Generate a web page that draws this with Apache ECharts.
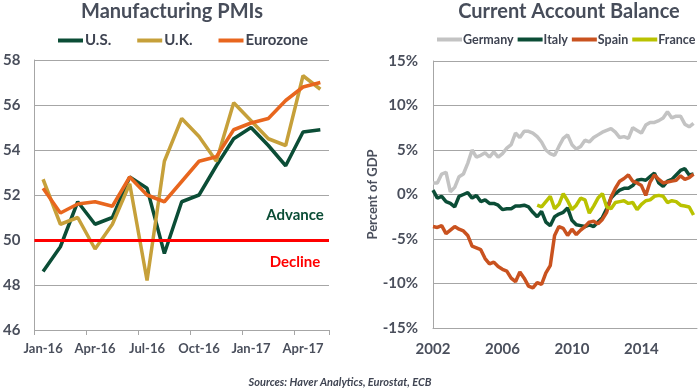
<!DOCTYPE html>
<html><head><meta charset="utf-8">
<script src="https://cdn.jsdelivr.net/npm/echarts@6/dist/echarts.min.js"></script>
<style>html,body{margin:0;padding:0;background:#fff}#c{width:700px;height:392px}</style>
</head><body><div id="c"></div>
<script>
// ---- Left chart: Manufacturing PMIs (monthly) ----
const months = ['Jan-16','Feb-16','Mar-16','Apr-16','May-16','Jun-16','Jul-16','Aug-16','Sep-16','Oct-16','Nov-16','Dec-16','Jan-17','Feb-17','Mar-17','Apr-17','May-17'];
const usPMI = [48.6,49.7,51.7,50.7,51.0,52.8,52.3,49.4,51.7,52.0,53.3,54.5,55.0,54.2,53.3,54.8,54.9];
const ukPMI = [52.7,50.7,51.0,49.6,50.7,52.5,48.2,53.5,55.4,54.6,53.5,56.1,55.3,54.5,54.2,57.3,56.7];
const ezPMI = [52.3,51.2,51.6,51.7,51.5,52.8,52.0,51.7,52.6,53.5,53.7,54.9,55.2,55.4,56.2,56.8,57.0];
const pmiThreshold = 50;

// ---- Right chart: Current account balance, % of GDP (quarterly) ----
const caStartYear = 2002;
const franceStartYear = 2008;
const germany = [1.3,1.3,2.3,2.5,0.3,0.8,2.0,2.3,3.5,5.0,4.2,4.4,4.7,4.2,4.8,4.2,4.6,5.2,5.6,6.9,6.4,7.1,7.1,6.9,6.5,5.9,5.0,4.6,4.4,5.4,6.3,6.7,5.6,5.1,5.4,6.1,5.9,6.4,6.7,7.0,7.2,7.4,7.0,6.4,6.5,6.3,7.5,7.2,6.9,7.8,8.1,8.1,8.3,8.6,9.3,8.6,8.8,8.8,7.9,7.6,8.0];
const italy = [0.5,-0.4,-0.2,-0.8,-1.0,-1.4,-0.2,0.0,0.2,-0.4,-0.1,-0.8,-0.6,-1.0,-1.0,-1.2,-1.7,-1.6,-1.6,-1.3,-1.3,-1.2,-1.4,-2.0,-2.5,-1.9,-3.1,-3.5,-2.5,-2.2,-2.0,-1.5,-2.9,-3.4,-3.5,-3.6,-3.4,-3.6,-3.1,-2.6,-1.6,-0.4,0.1,0.5,0.7,0.7,1.0,1.6,1.7,1.6,2.0,2.4,1.3,0.9,1.5,1.7,2.2,2.7,2.9,2.2,2.3];
const spain = [-3.6,-3.7,-3.5,-4.4,-4.0,-3.6,-3.9,-4.1,-4.6,-5.8,-6.0,-6.2,-7.2,-7.8,-7.6,-8.1,-8.4,-8.6,-9.4,-9.8,-8.7,-9.4,-10.3,-10.5,-9.9,-10.1,-8.8,-8.0,-4.6,-3.6,-3.8,-4.6,-3.9,-4.5,-4.0,-3.6,-3.1,-3.0,-3.3,-2.8,-2.0,-0.3,0.7,1.5,1.8,2.2,1.5,1.3,1.0,-0.1,1.4,2.2,1.7,1.3,1.4,1.5,1.6,2.1,1.7,1.9,2.3];
const france = [-1.2,-1.4,-0.8,-0.2,-1.6,-1.1,0.1,-0.7,-1.7,-1.2,-0.4,-0.6,-2.1,-1.3,-0.4,0.1,-1.4,-1.6,-0.9,-0.8,-0.7,-1.0,-0.9,-1.7,-1.1,-0.7,-0.6,-0.2,-0.1,-0.2,-0.9,-0.7,-0.8,-1.2,-1.3,-1.4,-2.3];
const yearTicks = [2002, 2006, 2010, 2014];

function quarterly(arr, start) { return arr.map((v, i) => [start + i * 0.25, v]); }

const FONT = 'Lato';
const AX = '#4a4f5c';
const GRIDC = '#a6a6a6';
const C_US = '#0b4d36', C_UK = '#c6a03a', C_EZ = '#e8661e';
const C_DE = '#c3c3c3', C_IT = '#0b4d36', C_ES = '#c9521f', C_FR = '#b9c200';

const chart = echarts.init(document.getElementById('c'));
const lineS = (name, data, color, xi, extra) => Object.assign({
  name, type: 'line', data, xAxisIndex: xi, yAxisIndex: xi, symbol: 'none',
  lineStyle: { color, width: 3.5 }, itemStyle: { color }, silent: true
}, extra || {});

chart.setOption({
  animation: false,
  textStyle: { fontFamily: FONT },
  grid: [
    { left: 33, top: 60, width: 296, height: 270 },
    { left: 433, top: 61, width: 267, height: 267 }
  ],
  legend: [
    { data: ['U.S.', 'U.K.', 'Eurozone'], left: 58, top: 33, padding: 0, icon: 'rect', itemWidth: 25, itemHeight: 4, itemGap: 26,
      textStyle: { fontFamily: FONT, fontSize: 15, fontWeight: 'bold', color: '#3f4452', padding: [0, 0, 0, -3] } },
    { data: ['Germany', 'Italy', 'Spain', 'France'], left: 437, top: 33, width: 300, padding: 0, icon: 'rect', itemWidth: 25, itemHeight: 4, itemGap: 4,
      textStyle: { fontFamily: FONT, fontSize: 12.5, fontWeight: 'bold', color: '#3f4452', padding: [0, 0, 0, -4] } }
  ],
  xAxis: [
    { type: 'category', gridIndex: 0, data: months, boundaryGap: true,
      axisLine: { lineStyle: { color: GRIDC } },
      axisTick: { show: true, interval: 2, length: 5, lineStyle: { color: GRIDC } },
      axisLabel: { interval: 2, fontSize: 13, fontWeight: 'bold', color: AX, margin: 12, fontFamily: FONT } },
    { type: 'value', gridIndex: 1, min: caStartYear, max: 2017.2, interval: 4,
      splitLine: { show: false },
      axisLine: { onZero: false, lineStyle: { color: GRIDC } },
      axisTick: { show: false },
      axisLabel: { fontSize: 15, fontWeight: 'bold', color: AX, margin: 14, fontFamily: FONT,
        formatter: v => (yearTicks.indexOf(v) >= 0 ? String(v) : '') } }
  ],
  yAxis: [
    { type: 'value', gridIndex: 0, min: 46, max: 58, interval: 2,
      axisLine: { show: true, lineStyle: { color: GRIDC } },
      axisTick: { show: false },
      splitLine: { lineStyle: { color: GRIDC } },
      axisLabel: { fontSize: 15, color: AX, margin: 14, fontFamily: FONT, fontWeight: 'bold' } },
    { type: 'value', gridIndex: 1, min: -15, max: 15, interval: 5,
      name: 'Percent of GDP', nameLocation: 'middle', nameGap: 42,
      nameTextStyle: { fontSize: 13, fontWeight: 'bold', color: AX, fontFamily: FONT },
      axisLine: { show: true, lineStyle: { color: GRIDC } },
      axisTick: { show: false },
      splitLine: { lineStyle: { color: GRIDC } },
      axisLabel: { fontSize: 15, color: AX, margin: 15, fontFamily: FONT, fontWeight: 'bold', formatter: '{value}%' } }
  ],
  series: [
    lineS('U.S.', usPMI, C_US, 0, {
      markLine: { silent: true, symbol: ['none', 'none'], label: { show: false },
        lineStyle: { color: '#ff0000', width: 3, type: 'solid' }, data: [{ yAxis: pmiThreshold }] } }),
    lineS('U.K.', ukPMI, C_UK, 0),
    lineS('Eurozone', ezPMI, C_EZ, 0),
    lineS('Germany', quarterly(germany, caStartYear), C_DE, 1),
    lineS('Italy', quarterly(italy, caStartYear), C_IT, 1),
    lineS('Spain', quarterly(spain, caStartYear), C_ES, 1),
    lineS('France', quarterly(france, franceStartYear), C_FR, 1)
  ],
  graphic: [
    { type: 'text', x: 172, y: 12, style: { text: 'Manufacturing PMIs', fontFamily: FONT, fontSize: 20, fontWeight: 'bold', fill: '#474d5a', align: 'center', verticalAlign: 'middle' } },
    { type: 'text', x: 569, y: 12, style: { text: 'Current Account Balance', fontFamily: FONT, fontSize: 20, fontWeight: 'bold', fill: '#474d5a', align: 'center', verticalAlign: 'middle' } },
    { type: 'text', x: 295, y: 215, style: { text: 'Advance', fontFamily: FONT, fontSize: 15, fontWeight: 'bold', fill: C_US, align: 'center', verticalAlign: 'middle' } },
    { type: 'text', x: 295, y: 262, style: { text: 'Decline', fontFamily: FONT, fontSize: 15, fontWeight: 'bold', fill: '#ff0000', align: 'center', verticalAlign: 'middle' } },
    { type: 'text', x: 340, y: 382, style: { text: 'Sources: Haver Analytics, Eurostat, ECB', fontFamily: FONT, fontSize: 11, fontWeight: 'bold', fontStyle: 'italic', fill: '#3f4452', align: 'center', verticalAlign: 'middle' } }
  ]
});
</script></body></html>
